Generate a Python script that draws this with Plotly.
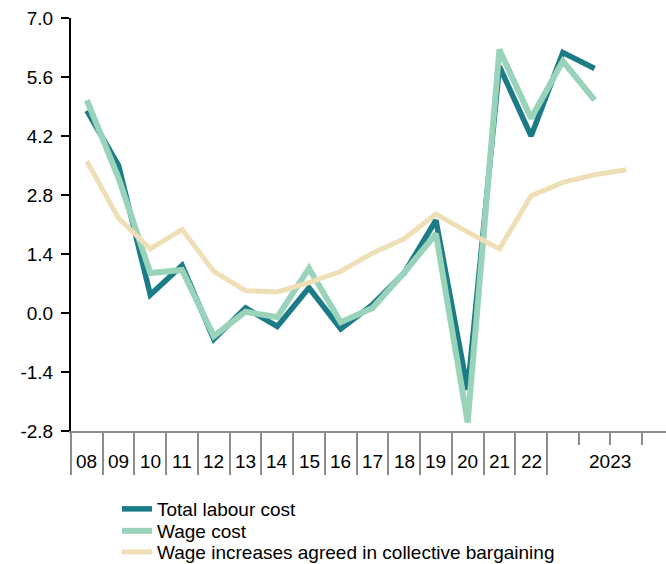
import plotly.graph_objects as go

categories = ["08", "09", "10", "11", "12", "13", "14", "15", "16", "17", "18", "19", "20", "21", "22",
              "2023Q1", "2023Q2", "2023Q3", "2023Q4"]
year_labels = ["08", "09", "10", "11", "12", "13", "14", "15", "16", "17", "18", "19", "20", "21", "22"]
total_labour_cost = [4.8, 3.5, 0.43, 1.13, -0.62, 0.12, -0.32, 0.6, -0.38, 0.2, 0.95, 2.2, -1.82, 5.85, 4.2, 6.18, 5.8]
wage_cost = [5.05, 3.2, 0.95, 1.02, -0.55, 0.03, -0.1, 1.06, -0.22, 0.12, 0.96, 1.88, -2.6, 6.25, 4.62, 5.98, 5.05]
collective = [3.6, 2.25, 1.52, 1.98, 0.99, 0.53, 0.5, 0.72, 0.99, 1.42, 1.76, 2.35, 1.92, 1.52, 2.78, 3.1, 3.28, 3.4]
y_ticks = [-2.8, -1.4, 0.0, 1.4, 2.8, 4.2, 5.6, 7.0]

TEAL = "#1b7b86"
GREEN = "#99d3b9"
BEIGE = "#efdfb6"
FONT = "Arial, Liberation Sans, sans-serif"
FS = 19
H = 564

x_idx = list(range(len(categories)))

fig = go.Figure()
fig.add_trace(go.Scatter(x=x_idx[:len(total_labour_cost)], y=total_labour_cost, mode="lines",
                         name="Total labour cost", line=dict(color=TEAL, width=5.5), legend="legend"))
fig.add_trace(go.Scatter(x=x_idx[:len(wage_cost)], y=wage_cost, mode="lines",
                         name="Wage cost", line=dict(color=GREEN, width=6), legend="legend2"))
fig.add_trace(go.Scatter(x=x_idx[:len(collective)], y=collective, mode="lines",
                         name="Wage increases agreed in collective bargaining",
                         line=dict(color=BEIGE, width=5), legend="legend3"))

n_years = len(year_labels)
boundaries = [i - 0.5 for i in range(n_years + 1)]
quarter_ticks = [n_years + 0.5, n_years + 1.5, n_years + 2.5]

fig.update_xaxes(
    range=[-0.5, 18.25], showgrid=False, zeroline=False, automargin=False,
    showline=True, linecolor="#8c8c8c", linewidth=2,
    tickmode="array", tickvals=boundaries, ticktext=[""] * len(boundaries),
    ticks="outside", ticklen=42, tickwidth=2, tickcolor="#8c8c8c",
    minor=dict(tickmode="array", tickvals=quarter_ticks, ticks="outside", ticklen=12,
               tickwidth=2, tickcolor="#8c8c8c", showgrid=False),
    fixedrange=True,
)
fig.update_yaxes(
    range=[-2.8, 7.0], showgrid=False, zeroline=False, automargin=False,
    showline=True, linecolor="black", linewidth=2,
    tickmode="array", tickvals=y_ticks, ticktext=[f"{v:.1f}" for v in y_ticks],
    ticks="outside", ticklen=8, tickwidth=2, tickcolor="black",
    ticklabelstandoff=4,
    tickfont=dict(size=FS, color="black", family=FONT),
    fixedrange=True,
)

annotations = []
for i, lab in enumerate(year_labels):
    annotations.append(dict(x=i, y=-2.8, xref="x", yref="y", text=lab, showarrow=False,
                            yshift=-30, font=dict(size=FS, color="black", family=FONT)))
annotations.append(dict(x=n_years + 1.5, y=-2.8, xref="x", yref="y", text="2023", showarrow=False,
                        yshift=-30, font=dict(size=FS, color="black", family=FONT)))

legend_x = (117 - 71) / 595


def leg(ypix):
    return dict(x=legend_x, y=1 - ypix / H, xref="paper", yref="container",
                xanchor="left", yanchor="middle",
                font=dict(size=FS, color="black", family=FONT),
                itemwidth=30, bgcolor="rgba(0,0,0,0)", borderwidth=0)


fig.update_layout(
    width=666, height=H,
    margin=dict(l=71, r=0, t=18, b=133, autoexpand=False),
    paper_bgcolor="white", plot_bgcolor="white",
    font=dict(family=FONT, size=FS, color="black"),
    annotations=annotations,
    showlegend=True,
    legend=leg(509),
    legend2=leg(531),
    legend3=leg(552),
)

fig.write_html("out.html", config={"displayModeBar": False},
               post_script="document.body.style.margin='0';document.body.style.padding='0';")
